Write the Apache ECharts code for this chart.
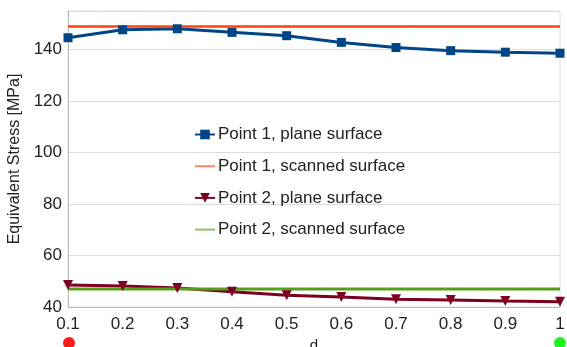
<!DOCTYPE html>
<html><head><meta charset="utf-8">
<script src="https://cdn.jsdelivr.net/npm/echarts@6/dist/echarts.min.js"></script>
<style>html,body{margin:0;padding:0;background:#fff}#c{width:567px;height:347px}</style>
</head><body><div id="c"></div>
<script>
const categories = ['0.1','0.2','0.3','0.4','0.5','0.6','0.7','0.8','0.9','1'];
const p1Plane = [144.6, 147.7, 148.1, 146.7, 145.4, 142.8, 140.8, 139.6, 139.0, 138.6];
const p1Scanned = [149, 149, 149, 149, 149, 149, 149, 149, 149, 149];
const p2Plane = [48.5, 48.2, 47.4, 45.9, 44.6, 43.9, 43.0, 42.7, 42.3, 42.0];
const p2Scanned = [47, 47, 47, 47, 47, 47, 47, 47, 47, 47];
const names = ['Point 1, plane surface','Point 1, scanned surface','Point 2, plane surface','Point 2, scanned surface'];
const colors = ['#004586','#ff420e','#7e0021','#579d1c'];
const font = 'Liberation Sans, Arial, sans-serif';
const lineIcon = 'path://M0,0L20,0L20,2L0,2Z';

const chart = echarts.init(document.getElementById('c'));
chart.setOption({
  animation: false,
  grid: {left: 68, right: 7, top: 11, bottom: 40, show: true, borderColor: '#e0e0e0', borderWidth: 1, outerBoundsMode: 'none', containLabel: false},
  legend: {
    left: 189, top: 120, orient: 'vertical', itemGap: 12.7, itemWidth: 20, itemHeight: 12,
    textStyle: {fontFamily: font, fontSize: 17, color: '#222', lineHeight: 19, padding: [0, 0, 0, -2]},
    data: [
      {name: names[0]},
      {name: names[1], icon: lineIcon, itemStyle: {color: '#ff8a6a'}},
      {name: names[2]},
      {name: names[3], icon: lineIcon, itemStyle: {color: '#8fc06a'}}
    ]
  },
  xAxis: {
    type: 'category', data: categories, boundaryGap: false,
    name: 'd', nameLocation: 'middle', nameGap: 25,
    nameTextStyle: {fontFamily: font, fontSize: 15, color: '#222'},
    axisLine: {lineStyle: {color: '#bbb'}}, axisTick: {show: false},
    axisLabel: {fontFamily: font, fontSize: 17, color: '#222', margin: 9},
    splitLine: {show: false}
  },
  yAxis: {
    type: 'value', min: 40, max: 155, interval: 20,
    name: 'Equivalent Stress [MPa]', nameLocation: 'middle', nameGap: 43,
    nameTextStyle: {fontFamily: font, fontSize: 16, color: '#222'},
    axisLine: {show: true, lineStyle: {color: '#bbb'}}, axisTick: {show: false},
    axisLabel: {fontFamily: font, fontSize: 17, color: '#222', showMaxLabel: false, margin: 6},
    splitLine: {lineStyle: {color: '#dcdcdc'}}
  },
  series: [
    {name: names[0], type: 'line', data: p1Plane, color: colors[0], symbol: 'rect', symbolSize: 9, showAllSymbol: true, lineStyle: {width: 3}},
    {name: names[1], type: 'line', data: p1Scanned, color: colors[1], symbol: 'none', lineStyle: {width: 2.5}},
    {name: names[2], type: 'line', data: p2Plane, color: colors[2], symbol: 'triangle', symbolRotate: 180, symbolSize: 10, lineStyle: {width: 3}},
    {name: names[3], type: 'line', data: p2Scanned, color: colors[3], symbol: 'none', lineStyle: {width: 3}}
  ]
});
const a = chart.convertToPixel({xAxisIndex: 0}, categories[0]);
const b = chart.convertToPixel({xAxisIndex: 0}, categories[categories.length - 1]);
chart.setOption({graphic: [
  {type: 'circle', shape: {cx: a + 1, cy: 343, r: 6}, style: {fill: '#ff1a1a'}},
  {type: 'circle', shape: {cx: b, cy: 343, r: 6}, style: {fill: '#22ee22'}}
]});
</script></body></html>
